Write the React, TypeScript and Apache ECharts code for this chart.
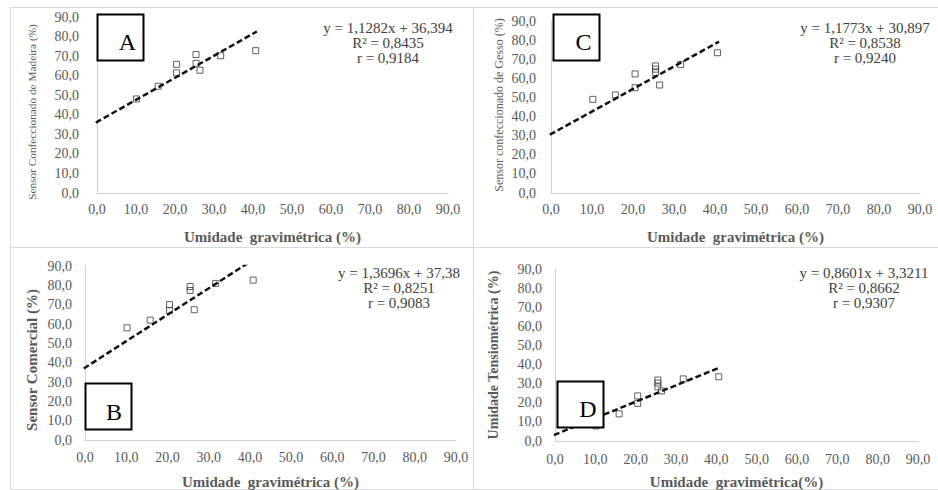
import React, { useEffect, useRef } from "react";
import * as echarts from "echarts";

// ---- data ----
const axisTicks = { min: 0, max: 90, interval: 10 };

const pointsA: number[][] = [
  [-0.3, 28.6], [10.1, 48.1], [15.7, 54.6], [20.4, 65.8], [20.4, 61.4],
  [25.4, 70.8], [25.4, 66.3], [26.4, 62.8], [31.7, 70.2], [40.7, 72.8],
];
const pointsC: number[][] = [
  [-0.3, 22.2], [10.2, 49.0], [15.7, 51.3], [20.5, 62.3], [20.5, 55.1],
  [25.5, 66.5], [25.5, 64.8], [25.5, 63.0], [26.5, 56.5], [31.6, 67.2], [40.6, 73.4],
];
const pointsB: number[][] = [
  [-0.3, 25.8], [10.2, 58.0], [15.8, 62.0], [20.5, 70.0], [20.5, 67.0],
  [25.5, 79.4], [25.5, 77.3], [26.5, 67.4], [31.7, 81.0], [40.8, 82.7],
];
const pointsD: number[][] = [
  [-0.3, 4.7], [10.2, 7.9], [15.9, 14.2], [20.5, 23.6], [20.5, 19.7],
  [25.5, 31.9], [25.5, 30.3], [25.5, 28.3], [26.4, 26.2], [31.8, 32.5], [40.6, 33.6],
];

const trendA: number[][] = [[-0.3, 36.0], [41.0, 82.6]];
const trendC: number[][] = [[-0.3, 30.5], [41.0, 79.2]];
const trendB: number[][] = [[-0.3, 37.0], [41.0, 93.5]];
const trendD: number[][] = [[-0.3, 3.1], [41.0, 38.6]];

const eqA = ["y = 1,1282x + 36,394", "R² = 0,8435", "r = 0,9184"];
const eqC = ["y = 1,1773x + 30,897", "R² = 0,8538", "r = 0,9240"];
const eqB = ["y = 1,3696x + 37,38", "R² = 0,8251", "r = 0,9083"];
const eqD = ["y = 0,8601x + 3,3211", "R² = 0,8662", "r = 0,9307"];

const panelLetters = ["A", "C", "B", "D"];
const xTitles = [
  "Umidade\u00a0 gravimétrica (%)",
  "Umidade\u00a0 gravimétrica (%)",
  "Umidade\u00a0 gravimétrica (%)",
  "Umidade\u00a0 gravimétrica(%)",
];
const yTitles = [
  "Sensor Confeccionado de Madeira (%)",
  "Sensor confeccionado de Gesso (%)",
  "Sensor Comercial (%)",
  "Unidade Tensiométrica (%)".replace("Unidade", "Umidade"),
];

// ---- layout / style ----
const SERIF = "'Liberation Serif', 'Times New Roman', serif";
const GRAY = "#595959";

const layout = [
  { grid: { left: 97, top: 17, width: 351, height: 176 }, yMargin: 18, xMargin: 9, nameGap: 36,
    yTitle: { x: 32, y: 112, size: 11.3, weight: "normal" }, eq: { x: 388, y: 28 },
    box: { x: 97.5, y: 14.5, w: 46, h: 46 }, letter: { x: 127.5, y: 42 } },
  { grid: { left: 551, top: 21, width: 369, height: 172 }, yMargin: 15, xMargin: 9, nameGap: 36,
    yTitle: { x: 499, y: 105, size: 12, weight: "normal" }, eq: { x: 865, y: 28 },
    box: { x: 553.5, y: 14.5, w: 46, h: 46 }, letter: { x: 583.5, y: 42 } },
  { grid: { left: 85, top: 266, width: 371, height: 186 }, yMargin: 13, xMargin: 10, nameGap: 34,
    yTitle: { x: 32, y: 360, size: 15, weight: "bold" }, eq: { x: 399, y: 273 },
    box: { x: 85.5, y: 383.5, w: 46, h: 46 }, letter: { x: 114, y: 412 } },
  { grid: { left: 555, top: 269, width: 363, height: 172 }, yMargin: 13, xMargin: 11, nameGap: 33,
    yTitle: { x: 493, y: 355, size: 14, weight: "bold" }, eq: { x: 864, y: 273 },
    box: { x: 557.5, y: 381.5, w: 46, h: 46 }, letter: { x: 588, y: 409 } },
];

const allPoints = [pointsA, pointsC, pointsB, pointsD];
const allTrends = [trendA, trendC, trendB, trendD];
const allEqs = [eqA, eqC, eqB, eqD];

const fmt = (v: number) => v.toFixed(1).replace(".", ",");

export default function App() {
  const ref = useRef<HTMLDivElement>(null);

  useEffect(() => {
    if (!ref.current) return;
    const chart = echarts.init(ref.current, undefined, { renderer: "svg" });

    const grids = layout.map((l) => ({ ...l.grid, containLabel: false }));
    const xAxes = layout.map((l, i) => ({
      type: "value",
      gridIndex: i,
      min: axisTicks.min,
      max: axisTicks.max,
      interval: axisTicks.interval,
      name: xTitles[i],
      nameLocation: "middle",
      nameGap: l.nameGap,
      nameTextStyle: { fontFamily: SERIF, fontSize: 15, fontWeight: "bold", color: GRAY },
      axisLine: { show: true, onZero: false, lineStyle: { color: "#d0d0d0", width: 1 } },
      axisTick: { show: false },
      splitLine: { show: false },
      axisLabel: { formatter: fmt, fontFamily: SERIF, fontSize: 14, color: GRAY, margin: l.xMargin },
    }));
    const yAxes = layout.map((l, i) => ({
      type: "value",
      gridIndex: i,
      min: axisTicks.min,
      max: axisTicks.max,
      interval: axisTicks.interval,
      axisLine: { show: true, onZero: false, lineStyle: { color: "#d0d0d0", width: 1 } },
      axisTick: { show: false },
      splitLine: { show: false },
      axisLabel: { formatter: fmt, fontFamily: SERIF, fontSize: 14, color: GRAY, margin: l.yMargin },
    }));

    const series: any[] = [];
    allPoints.forEach((pts, i) => {
      series.push({
        type: "scatter",
        xAxisIndex: i,
        yAxisIndex: i,
        data: pts,
        symbol: "rect",
        symbolSize: 6,
        itemStyle: { color: "rgba(255,255,255,0)", borderColor: "#3a3a3a", borderWidth: 1 },
        z: 2,
      });
      series.push({
        type: "line",
        xAxisIndex: i,
        yAxisIndex: i,
        data: allTrends[i],
        showSymbol: false,
        symbol: "none",
        clip: true,
        lineStyle: { color: "#111", width: 2.5, type: [6, 3] },
        z: 3,
      });
    });

    const graphics: any[] = [];
    // panel borders
    const border = { stroke: "#d9d9d9", lineWidth: 1 };
    graphics.push(
      { type: "line", shape: { x1: 10, y1: 7.5, x2: 938, y2: 7.5 }, style: border, silent: true },
      { type: "line", shape: { x1: 10, y1: 247.5, x2: 938, y2: 247.5 }, style: border, silent: true },
      { type: "line", shape: { x1: 10, y1: 489.5, x2: 938, y2: 489.5 }, style: border, silent: true },
      { type: "line", shape: { x1: 10.5, y1: 7, x2: 10.5, y2: 490 }, style: border, silent: true },
      { type: "line", shape: { x1: 473.5, y1: 7, x2: 473.5, y2: 490 }, style: border, silent: true }
    );

    layout.forEach((l, i) => {
      // y axis title
      graphics.push({
        type: "text",
        x: l.yTitle.x,
        y: l.yTitle.y,
        rotation: Math.PI / 2,
        style: {
          text: yTitles[i],
          fill: GRAY,
          fontFamily: SERIF,
          fontSize: l.yTitle.size,
          fontWeight: l.yTitle.weight,
          textAlign: "center",
          align: "center",
          textVerticalAlign: "middle",
          verticalAlign: "middle",
        },
      });
      // equation block
      allEqs[i].forEach((line, k) => {
        graphics.push({
          type: "text",
          x: l.eq.x,
          y: l.eq.y + k * 15,
          style: {
            text: line,
            fill: "#404040",
            fontFamily: SERIF,
            fontSize: 15,
            textAlign: "center",
            align: "center",
            textVerticalAlign: "middle",
            verticalAlign: "middle",
          },
        });
      });
      // letter box
      graphics.push({
        type: "rect",
        shape: { x: l.box.x, y: l.box.y, width: l.box.w, height: l.box.h },
        style: { fill: "#fff", stroke: "#000", lineWidth: 2 },
        z: 10,
      });
      graphics.push({
        type: "text",
        x: l.letter.x,
        y: l.letter.y,
        z: 11,
        style: {
          text: panelLetters[i],
          fill: "#000",
          fontFamily: SERIF,
          fontSize: 24,
          textAlign: "center",
          align: "center",
          textVerticalAlign: "middle",
          verticalAlign: "middle",
        },
      });
    });

    chart.setOption({
      animation: false,
      backgroundColor: "#fff",
      grid: grids,
      xAxis: xAxes,
      yAxis: yAxes,
      series,
      graphic: { elements: graphics },
    });

    return () => chart.dispose();
  }, []);

  return (
    <div
      ref={ref}
      style={{ position: "absolute", left: 0, top: 0, width: 938, height: 490, background: "#fff" }}
    />
  );
}
